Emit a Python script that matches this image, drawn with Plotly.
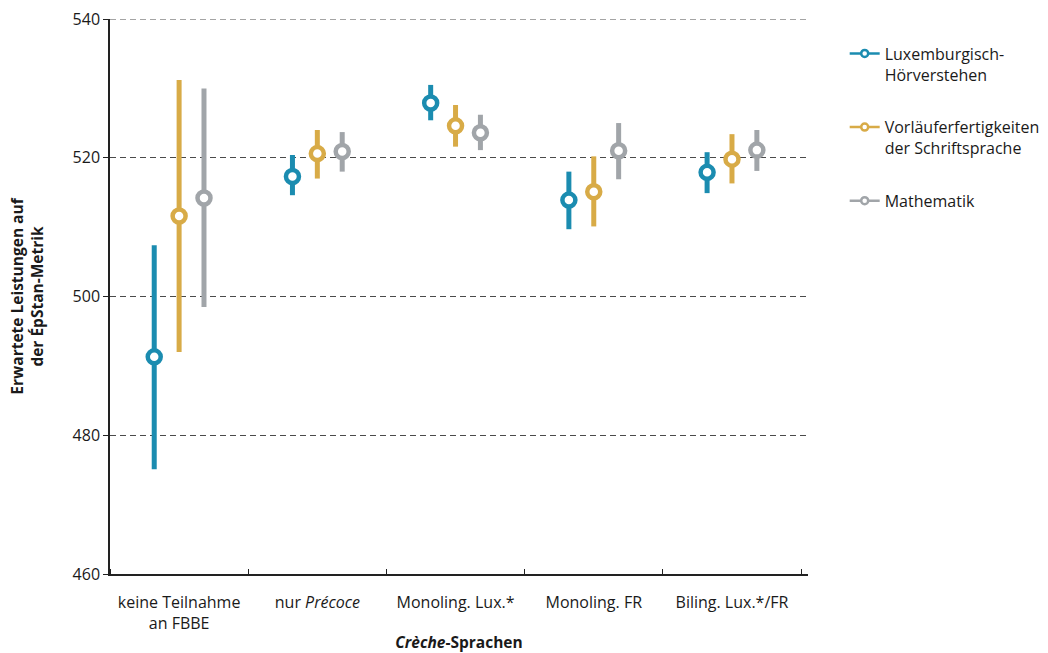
import plotly.graph_objects as go

categories = ["keine Teilnahme<br>an FBBE", "nur <i>Précoce</i>", "Monoling. Lux.*", "Monoling. FR", "Biling. Lux.*/FR"]
series_names = ["Luxemburgisch-<br>Hörverstehen", "Vorläuferfertigkeiten<br>der Schriftsprache", "Mathematik"]
colors = ["#1b8cb0", "#d8ab47", "#a1a5a9"]

lux_mean = [491.3, 517.3, 527.9, 513.9, 517.9]
lux_low = [475.1, 514.6, 525.4, 509.7, 514.9]
lux_high = [507.4, 520.4, 530.5, 518.0, 520.8]

vor_mean = [511.6, 520.6, 524.6, 515.1, 519.8]
vor_low = [492.0, 517.0, 521.6, 510.1, 516.3]
vor_high = [531.2, 524.0, 527.6, 520.2, 523.4]

mat_mean = [514.2, 520.9, 523.6, 521.0, 521.1]
mat_low = [498.5, 518.0, 521.1, 516.9, 518.1]
mat_high = [530.0, 523.7, 526.2, 525.0, 524.0]

y_ticks = [460, 480, 500, 520, 540]

series = [
    (lux_mean, lux_low, lux_high),
    (vor_mean, vor_low, vor_high),
    (mat_mean, mat_low, mat_high),
]
offsets = [-0.18, 0.0, 0.18]

FONT = "Open Sans"
TXT = "#1a1a1a"
GRID = "#4a4a4a"

fig = go.Figure()
for i, (m, lo, hi) in enumerate(series):
    xs = [k + offsets[i] for k in range(len(categories))]
    fig.add_trace(go.Scatter(
        x=xs, y=m, mode="markers", showlegend=False,
        marker=dict(symbol="circle", size=13, color="white",
                    line=dict(color=colors[i], width=4.5)),
        error_y=dict(type="data", symmetric=False,
                     array=[h - v for h, v in zip(hi, m)],
                     arrayminus=[v - l for v, l in zip(m, lo)],
                     color=colors[i], thickness=5, width=0),
        hoverinfo="skip",
    ))

for i, name in enumerate(series_names):
    fig.add_trace(go.Scatter(
        x=[None], y=[None], mode="lines+markers", name=name,
        legendgroup=str(i),
        line=dict(color=colors[i], width=2.5),
        marker=dict(symbol="circle", size=7, color="white",
                    line=dict(color=colors[i], width=2.5)),
    ))

# top dashed gridline (at the range edge, where Plotly omits it)
fig.add_shape(type="line", xref="paper", yref="y", x0=0, x1=1,
              y0=y_ticks[-1], y1=y_ticks[-1],
              line=dict(color=GRID, width=1, dash="6px,4px"), layer="below")

fig.update_layout(
    width=1048, height=653,
    margin=dict(l=110, r=240, t=19, b=79, autoexpand=False),
    paper_bgcolor="white", plot_bgcolor="white",
    font=dict(family=FONT, size=16, color=TXT),
    legend=dict(xref="container", yref="container",
                x=0.806, y=0.944, xanchor="left", yanchor="top",
                valign="top", tracegroupgap=29,
                font=dict(family=FONT, size=16, color=TXT),
                itemwidth=30),
    xaxis=dict(
        range=[-0.5, 4.55],
        automargin=False,
        tickmode="array",
        tickvals=list(range(len(categories))),
        ticktext=categories,
        ticks="", showgrid=False, zeroline=False,
        showline=True, linecolor="#222222", linewidth=1.5,
        minor=dict(tick0=-0.5, dtick=1, ticks="inside", ticklen=5,
                   tickcolor="#222222", showgrid=False),
        tickfont=dict(family=FONT, size=16, color=TXT),
        ticklabelstandoff=13,
        title=dict(text="<b><i>Crèche</i>-Sprachen</b>", standoff=5,
                   font=dict(family=FONT, size=15.5, color=TXT)),
        fixedrange=True,
    ),
    yaxis=dict(
        range=[460, 540],
        automargin=False,
        tickmode="array", tickvals=y_ticks,
        ticks="outside", ticklen=5, tickcolor="#222222",
        showgrid=True, gridcolor=GRID, griddash="6px,4px", gridwidth=1,
        zeroline=False,
        showline=True, linecolor="#222222", linewidth=1.5,
        tickfont=dict(family=FONT, size=16, color=TXT),
        title=dict(text="<b>Erwartete Leistungen auf<br>der ÉpStan-Metrik</b>",
                   standoff=25,
                   font=dict(family=FONT, size=15.5, color=TXT)),
        fixedrange=True,
    ),
)

fig.write_html("out.html")
